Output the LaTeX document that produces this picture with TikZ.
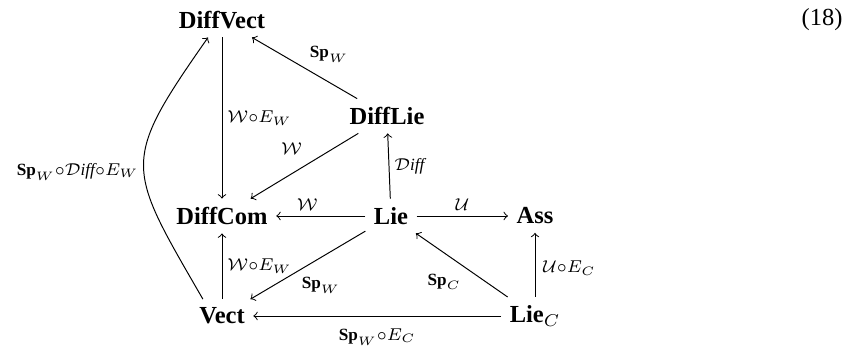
\documentclass[tikz,border=0pt]{standalone}
\usepackage{amsmath}
\usepackage{xcolor}
\usepackage{fontspec}
\setmainfont{Liberation Serif}
\usepackage{tikz}

\begin{document}
\begin{tikzpicture}[x=0.01435cm,y=-0.01435cm,
 lab/.style={font=\scriptsize,inner sep=2pt}]

\def\xl{222} \def\xm{391} \def\xr{535}
\def\yt{20} \def\ym{216} \def\yb{316}
\useasboundingbox (0,0) rectangle (855,349);

% objects
\node (dv) at (\xl,\yt) {\textbf{DiffVect}};
\node (dl) at (387,116) {\textbf{DiffLie}};
\node (dc) at (\xl,\ym) {\textbf{DiffCom}};
\node (l) at (\xm,\ym) {\textbf{Lie}};
\node (a) at (\xr,\ym) {\textbf{Ass}};
\node (v) at (\xl,\yb) {\textbf{Vect}};
\node (lc) at (\xr,\yb) {\textbf{Lie}$_C$};
\node (eq) at (822,20) {(18)};

% arrows
\draw[->] (dv) -- node[lab,right]{$\mathcal{W}{\circ}E_W$} (dc);
\draw[->] (dl) -- node[lab,above right]{$\mathbf{Sp}_W$} (dv);
\draw[->] (dl) -- node[lab,pos=0.45,above left=1pt]{$\mathcal{W}$} (dc);
\draw[->] (l) -- node[lab,right]{$\mathcal{D}\mathit{iff}$} (dl);
\draw[->] (l) -- node[lab,pos=0.65,above]{$\mathcal{W}$} (dc);
\draw[->] (l) -- node[lab,above]{$\mathcal{U}$} (a);
\draw[->] (v) -- node[lab,right]{$\mathcal{W}{\circ}E_W$} (dc);
\draw[->] (l) -- node[lab,pos=0.6,below right]{$\mathbf{Sp}_W$} (v);
\draw[->] (lc) -- node[lab,pos=0.45,below left]{$\mathbf{Sp}_C$} (l);
\draw[->] (lc) -- node[lab,pos=0.45,right=1pt]{$\mathcal{U}{\circ}E_C$} (a);
\draw[->] (lc) -- node[lab,below=3pt]{$\mathbf{Sp}_W{\circ}E_C$} (v);
\draw[->] ([xshift=-7.8pt]v.north) to[out=120,in=235,looseness=1.5]
 node[lab,pos=0.47,left]{$\mathbf{Sp}_W{\circ}\mathcal{D}\mathit{iff}{\circ}E_W$} ([xshift=-5.7pt]dv.south);

\end{tikzpicture}
\end{document}
